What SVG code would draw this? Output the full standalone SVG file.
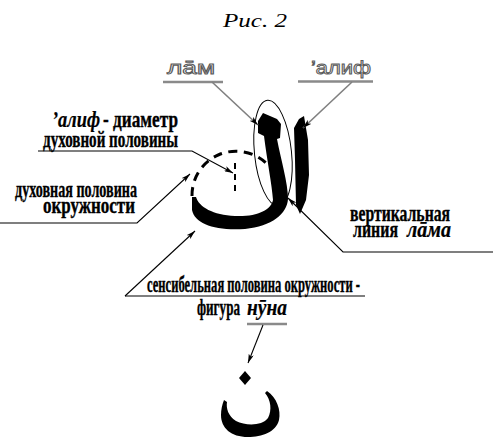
<svg xmlns="http://www.w3.org/2000/svg" width="493" height="437" viewBox="0 0 493 437">
  <style>
    .lbl { font-family: "Liberation Serif", "Times New Roman", serif; font-weight: bold; font-size: 24px; fill: #000; stroke: #000; stroke-width: 0.4px; }
    .it { font-style: italic; stroke-width: 0.25px; }
    .hollow { font-family: "Liberation Sans", Arial, sans-serif; font-size: 19px; fill: #fff; stroke: #5a5a5a; stroke-width: 1px; opacity: 0.99; }
    .ln { fill: none; stroke: #000; stroke-width: 1.1; }
    .gray { fill: none; stroke: #808080; stroke-width: 1.6; }
    .bar { fill: none; stroke: #8a8a8a; stroke-width: 2.6; }
  </style>
  <defs>
    <marker id="head" viewBox="0 0 10 6" refX="10" refY="3" markerWidth="9" markerHeight="5.4" markerUnits="userSpaceOnUse" orient="auto">
      <path d="M0,0 L10,3 L0,6 L2.5,3 Z" fill="#000"/>
    </marker>
  </defs>

  <rect width="493" height="437" fill="#fff"/>

  <!-- caption -->
  <text id="caption" x="223" y="27" font-family="Liberation Serif, serif" font-style="italic" font-size="19" textLength="64" lengthAdjust="spacingAndGlyphs">Рис. 2</text>

  <!-- lam-alif ligature -->
  <g id="lam-alif">
    <!-- lam: vertical stroke with head, sweeping into the bowl -->
    <path d="M263,113 L277,119 L281,124 L280,138 L277,139 C281,160 288,183 288,199 C287,214 272,226 245,229 C215,231 195,224 192,210 L192,197 L196,197 C199,207 213,215 235,216 C257,217 271,210 273,200 C272,185 267,160 264,136 L258,133 L258,121 Z" fill="#000"/>
    <!-- alif -->
    <path d="M299,119 L304,116 L308,140 L309,175 L306,200 L300,214 L296,205 L295,160 L294,128 Z" fill="#000"/>
    <!-- ellipse around the vertical of lam -->
    <ellipse cx="273" cy="153" rx="18.5" ry="53" transform="rotate(-6 273 153)" fill="none" stroke="#000" stroke-width="1"/>
    <!-- spiritual half of the circle -->
    <path d="M192,196 A44,44 0 0 1 267,164" fill="none" stroke="#000" stroke-width="3" stroke-dasharray="9,6.5"/>
    <!-- diameter -->
    <line x1="235" y1="163" x2="235" y2="193" stroke="#000" stroke-width="2" stroke-dasharray="6,5"/>
  </g>

  <!-- nun -->
  <g id="nun">
    <path d="M245,371 L251,378 L245,385 L239,378 Z" fill="#000"/>
    <path d="M267,391 C277,398 281,410 279,420 C276,432 262,437 248,437 C231,437 221,428 221,415 C221,410 222,405 224,400 L227,402 C226,408 228,416 236,421 C246,426 262,426 268,418 C272,410 271,400 265,393 Z" fill="#000"/>
  </g>

  <!-- labels (condensed: horizontal scale 0.7, widths fixed by textLength) -->
  <g id="label-lam">
    <text class="hollow" x="167" y="74" textLength="48" lengthAdjust="spacingAndGlyphs">лāм</text>
  </g>
  <g id="label-alif">
    <text class="hollow" x="311" y="74" textLength="60" lengthAdjust="spacingAndGlyphs">’алиф</text>
  </g>
  <g id="label-diameter">
    <text class="lbl it" transform="translate(52,127) scale(0.7,1)" textLength="68.6" lengthAdjust="spacingAndGlyphs">’алиф</text>
    <text class="lbl" transform="translate(103,127) scale(0.7,1)" textLength="107.1" lengthAdjust="spacingAndGlyphs">- диаметр</text>
    <text class="lbl" transform="translate(43,147) scale(0.7,1)" textLength="192.9" lengthAdjust="spacingAndGlyphs">духовной половины</text>
  </g>
  <g id="label-spiritual">
    <text class="lbl" transform="translate(15,197) scale(0.7,1)" textLength="174.3" lengthAdjust="spacingAndGlyphs">духовная половина</text>
    <text class="lbl" transform="translate(43,213) scale(0.7,1)" textLength="131.4" lengthAdjust="spacingAndGlyphs">окружности</text>
  </g>
  <g id="label-vertical">
    <text class="lbl" transform="translate(350,221) scale(0.7,1)" textLength="142.9" lengthAdjust="spacingAndGlyphs">вертикальная</text>
    <text class="lbl" transform="translate(353,237) scale(0.7,1)" textLength="64.3" lengthAdjust="spacingAndGlyphs">линия</text>
    <text class="lbl it" transform="translate(407,237) scale(0.7,1)" textLength="62.9" lengthAdjust="spacingAndGlyphs">лāма</text>
  </g>
  <g id="label-sensible">
    <text class="lbl" transform="translate(147,292) scale(0.7,1)" textLength="304.3" lengthAdjust="spacingAndGlyphs">сенсибельная половина окружности -</text>
    <text class="lbl" transform="translate(197,315) scale(0.7,1)" textLength="61.4" lengthAdjust="spacingAndGlyphs">фигура</text>
    <text class="lbl it" transform="translate(247,315) scale(0.7,1)" textLength="57.1" lengthAdjust="spacingAndGlyphs">нӯна</text>
  </g>

  <!-- leader lines and arrows -->
  <g id="connectors">
    <line class="bar" x1="163" y1="82" x2="223" y2="82"/>
    <line class="gray" x1="212" y1="82" x2="258" y2="125" marker-end="url(#head)"/>
    <line class="bar" x1="298" y1="81.5" x2="373" y2="81.5"/>
    <line class="gray" x1="352" y1="82" x2="303" y2="128" marker-end="url(#head)"/>

    <polyline class="ln" points="38,151 192,151 233,173" marker-end="url(#head)"/>
    <polyline class="ln" points="0,223 137,223 190,174" marker-end="url(#head)"/>
    <polyline class="ln" points="493,252 343,252 288,198" marker-end="url(#head)"/>
    <line class="ln" x1="125" y1="296" x2="365" y2="296"/>
    <line class="ln" x1="125" y1="296" x2="195" y2="231" marker-end="url(#head)"/>

    <line class="bar" x1="247" y1="324" x2="287" y2="324" stroke-width="2"/>
    <line class="ln" x1="263" y1="325" x2="248" y2="363" marker-end="url(#head)"/>
  </g>
</svg>
